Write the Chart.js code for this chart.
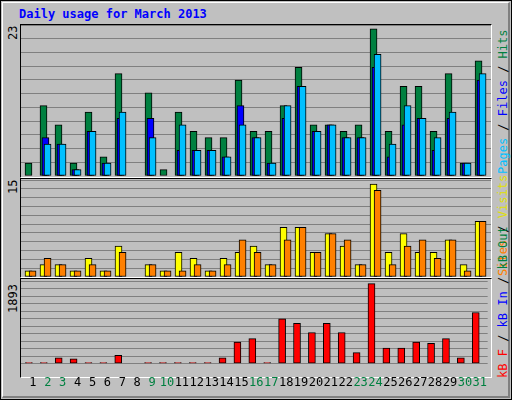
<!DOCTYPE html>
<html><head><meta charset="utf-8">
<script src="https://cdn.jsdelivr.net/npm/chart.js@4"></script>
<style>
body{margin:0;background:#fff;}
#frame{position:absolute;left:0;top:0;width:510px;height:398px;background:#C0C0C0;border:1px solid #000;}
#bevel{position:absolute;left:1px;top:1px;width:505px;height:393px;border-top:1px solid #fff;border-left:1px solid #fff;border-right:2px solid #808080;border-bottom:2px solid #808080;}
.t{position:absolute;font-family:"DejaVu Sans Mono",monospace;font-size:12px;white-space:nowrap;}
.rot{transform-origin:0 0;transform:rotate(-90deg);}
.panel{position:absolute;border-top:1px solid #000;border-left:1px solid #000;border-right:1px solid #fff;border-bottom:1px solid #fff;box-sizing:border-box;}
canvas{position:absolute;}
</style></head><body>
<div id="frame"><div id="bevel"></div></div>
<div class="t" style="left:19px;top:7px;color:#0000FF;font-weight:bold;">Daily usage for March 2013</div>
<div class="panel" style="left:20px;top:24px;width:472px;height:154px;"></div>
<div class="panel" style="left:20px;top:178px;width:472px;height:100px;"></div>
<div class="panel" style="left:20px;top:278px;width:472px;height:100px;"></div>
<div class="t rot" style="left:6px;top:40px;">23</div>
<div class="t rot" style="left:6px;top:194px;">15</div>
<div class="t rot" style="left:6px;top:313px;">1893</div>
<div class="t rot" style="left:496px;top:174px;"><span style="color:#00C0FF">Pages</span> / <span style="color:#0000FF">Files</span> / <span style="color:#008040">Hits</span></div>
<div class="t rot" style="left:496px;top:276px;"><span style="color:#FF8000">Sites</span> / <span style="color:#E0E000">Visits</span></div>
<div class="t rot" style="left:496px;top:378px;"><span style="color:#FF0000">kB F</span> / <span style="color:#0000FF">kB In</span> / <span style="color:#008040">kB Out</span></div>
<canvas id="c1" style="left:21px;top:25px;"></canvas>
<canvas id="c2" style="left:21px;top:180px;"></canvas>
<canvas id="c3" style="left:21px;top:281px;"></canvas>
<script>
const days=[1,2,3,4,5,6,7,8,9,10,11,12,13,14,15,16,17,18,19,20,21,22,23,24,25,26,27,28,29,30,31];
const weekend=[2,3,9,10,16,17,23,24,30,31];
const hits =[2,11,8,2,10,3,16,0,13,1,10,7,6,6,15,7,7,11,17,8,8,7,8,23,7,14,14,7,16,2,18];
const files=[0,6,5,1,7,2,9,0,9,0,4,4,4,3,11,6,2,9,14,7,8,6,6,17,3,8,9,4,9,2,15];
const pages=[0,5,5,1,7,2,10,0,6,0,8,4,4,3,8,6,2,11,14,7,8,6,6,19,5,11,9,6,10,2,16];
const visits=[1,2,2,1,3,1,5,0,2,1,4,3,1,3,4,5,2,8,8,4,7,5,2,15,4,7,4,4,6,2,9];
const sites=[1,3,2,1,2,1,4,0,2,1,1,2,1,2,6,4,2,6,8,4,7,6,2,14,2,5,6,3,6,1,9];
const kbytes=[25,25,138,110,25,25,193,0,25,25,25,25,25,138,509,592,25,1060,956,736,956,736,261,1893,365,365,509,482,592,138,1210];
const W=470;
function pts(arr,off){return days.map((d,i)=>({x:d+off,y:arr[i]}));}
function ds(arr,off,color){return {data:pts(arr,off),backgroundColor:color,borderColor:'#000',borderWidth:1,barThickness:7,grouped:false,borderSkipped:false};}
function make(id,h,datasets,ymax,count,showX){
  const c=document.getElementById(id);c.width=W;c.height=h;c.style.width=W+'px';c.style.height=h+'px';
  new Chart(c,{type:'bar',data:{datasets},options:{responsive:false,animation:false,devicePixelRatio:1,
    layout:{padding:0},plugins:{legend:{display:false},tooltip:{enabled:false}},
    scales:{
      x:{type:'linear',offset:false,min:0.2,max:31.53,display:showX,grid:{display:false},border:{display:false},
        afterBuildTicks:s=>{s.ticks=days.map(v=>({value:v}));},
        ticks:{padding:4,autoSkip:false,maxRotation:0,font:{family:'DejaVu Sans Mono',size:12},
          color:ctx=>weekend.includes(ctx.tick.value)?'#008040':'#000',callback:v=>String(v)}},
      y:{min:0,max:ymax,display:true,border:{display:false},grid:{color:'#808080',lineWidth:1,drawTicks:false},
        ticks:{display:false,count:count}}
    }}});
}
make('c1',151,[ds(pages,-0.03,'#00C0FF'),ds(files,-0.17,'#0000FF'),ds(hits,-0.3,'#008040')],23.6,12,false);
make('c2',97,[ds(sites,-0.03,'#FF8000'),ds(visits,-0.3,'#FFFF00')],15.65,12,false);
make('c3',113,[ds(kbytes,-0.27,'#FF0000')],1955,12,true);
</script></body></html>
